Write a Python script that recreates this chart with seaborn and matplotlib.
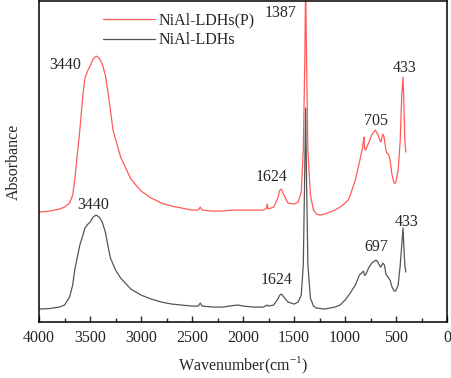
import numpy as np
import pandas as pd
import matplotlib
matplotlib.use("Agg")
import matplotlib.pyplot as plt
import seaborn as sns

# wavenumber (cm-1) and absorbance (arb. units)
wn_p = [4000, 3900, 3800, 3750, 3700, 3670, 3650, 3620, 3600, 3570, 3550, 3520, 3500,
        3470, 3440, 3410, 3380, 3350, 3320, 3300, 3275, 3200, 3100, 3000, 2900, 2800,
        2700, 2600, 2500, 2440, 2420, 2400, 2300, 2200, 2100, 2000, 1900, 1800, 1770,
        1765, 1755, 1700, 1660, 1640, 1624, 1600, 1560, 1500, 1460, 1430, 1410, 1395,
        1387, 1378, 1365, 1340, 1310, 1280, 1250, 1200, 1150, 1100, 1050, 1000, 970,
        950, 900, 860, 830, 820, 815, 810, 800, 770, 740, 705, 680, 660, 650, 630, 620,
        600, 590, 575, 560, 540, 520, 505, 480, 460, 445, 433, 425, 415, 405]
abs_p = [110, 111, 113, 115, 119, 127, 142, 172, 192, 227, 244, 252, 256,
         263, 266, 264, 258, 247, 227, 212, 192, 165, 143, 131, 124, 119,
         116, 114, 112, 112, 115, 112, 111, 111, 112, 112, 112, 112, 114,
         118, 113, 115, 124, 132, 133, 127, 119, 118, 120, 130, 172, 262,
         342, 262, 172, 127, 112, 108, 107, 108, 110, 112, 115, 119, 122,
         127, 142, 160, 174, 182, 185, 174, 172, 179, 187, 192, 188, 182, 180, 188, 186,
         172, 169, 168, 162, 147, 139, 139, 152, 182, 227, 245, 222, 182, 170]

wn_0 = [4000, 3900, 3800, 3750, 3700, 3670, 3650, 3620, 3600, 3570, 3550, 3520, 3500,
        3470, 3440, 3410, 3380, 3350, 3320, 3300, 3250, 3200, 3100, 3000, 2900, 2800,
        2700, 2600, 2500, 2440, 2420, 2400, 2300, 2200, 2100, 2050, 2000, 1900, 1800,
        1765, 1755, 1700, 1660, 1640, 1624, 1600, 1560, 1500, 1460, 1430, 1410, 1397,
        1387, 1378, 1365, 1340, 1310, 1280, 1200, 1100, 1050, 1000, 950, 900, 860, 830,
        820, 810, 800, 770, 740, 697, 680, 660, 650, 630, 615, 600, 580, 560, 540, 520,
        505, 480, 460, 445, 433, 425, 415, 405]
abs_0 = [13, 13.5, 15, 17, 25, 37, 52, 67, 77, 87, 94, 98, 100,
         105, 107, 105, 100, 90, 74, 64, 52, 44, 33, 27, 23, 20,
         18, 17, 16, 16, 19, 16, 15, 15, 16.5, 17, 16, 15, 15,
         17, 16, 17, 23, 27, 28, 25, 20, 18, 20, 27, 57, 142,
         214, 142, 57, 24, 16, 14, 13, 15, 17, 22, 29, 37, 47, 50,
         51, 47, 47, 54, 59, 62, 60, 56, 55, 59, 57, 48, 45, 42, 35, 31,
         31, 37, 57, 77, 94, 77, 57, 50]

# peak labels: text, x, y
labels = ["3440", "1387", "433", "705", "1624", "3440", "433", "697", "1624"]
lab_x = [3745, 1637, 412, 696, 1716, 3470, 402, 696, 1667]
lab_y = [257, 309, 254, 201, 145, 117, 100, 75, 42]

sns.set_style("ticks")
plt.rcParams['font.family'] = ['Liberation Serif', 'DejaVu Serif']
plt.rcParams['mathtext.fontset'] = 'custom'
plt.rcParams['mathtext.rm'] = 'Liberation Serif'

fig = plt.figure(figsize=(4.52, 3.78), dpi=100)
ax = fig.add_axes([0.0863, 0.148, 0.903, 0.849])

dfp = pd.DataFrame({"wn": wn_p, "a": abs_p})
df0 = pd.DataFrame({"wn": wn_0, "a": abs_0})
sns.lineplot(data=dfp, x="wn", y="a", color="#ff5a5a", lw=0.9, estimator=None,
             label="NiAl-LDHs(P)", ax=ax)
sns.lineplot(data=df0, x="wn", y="a", color="#555555", lw=0.9, estimator=None,
             label="NiAl-LDHs", ax=ax)

for t, x, y in zip(labels, lab_x, lab_y):
    ax.text(x, y, t, ha="center", va="center", fontsize=11.5)

ax.set_xlim(4000, 0)
ax.set_ylim(0, 321)
ax.set_xticks(np.arange(4000, -1, -500))
ax.set_xticks(np.arange(3750, 0, -500), minor=True)
ax.tick_params(axis="x", which="major", direction="in", length=4.5, width=1, labelsize=11.5, pad=6)
ax.tick_params(axis="x", which="minor", direction="in", length=2.8, width=1)
ax.set_yticks([])
for s in ax.spines.values():
    s.set_linewidth(1.1)
    s.set_color("black")

ax.set_xlabel(r"Wavenumber(cm$^{\mathregular{-1}}$)", fontsize=11.5, labelpad=6)
ax.set_ylabel("Absorbance", fontsize=11.5, labelpad=12)

ax.legend(loc="upper left", bbox_to_anchor=(0.14, 0.985), frameon=False,
          fontsize=11.5, handlelength=3.3, handletextpad=0.2, labelspacing=0.25,
          borderaxespad=0)

fig.savefig("out.png", dpi=100)
